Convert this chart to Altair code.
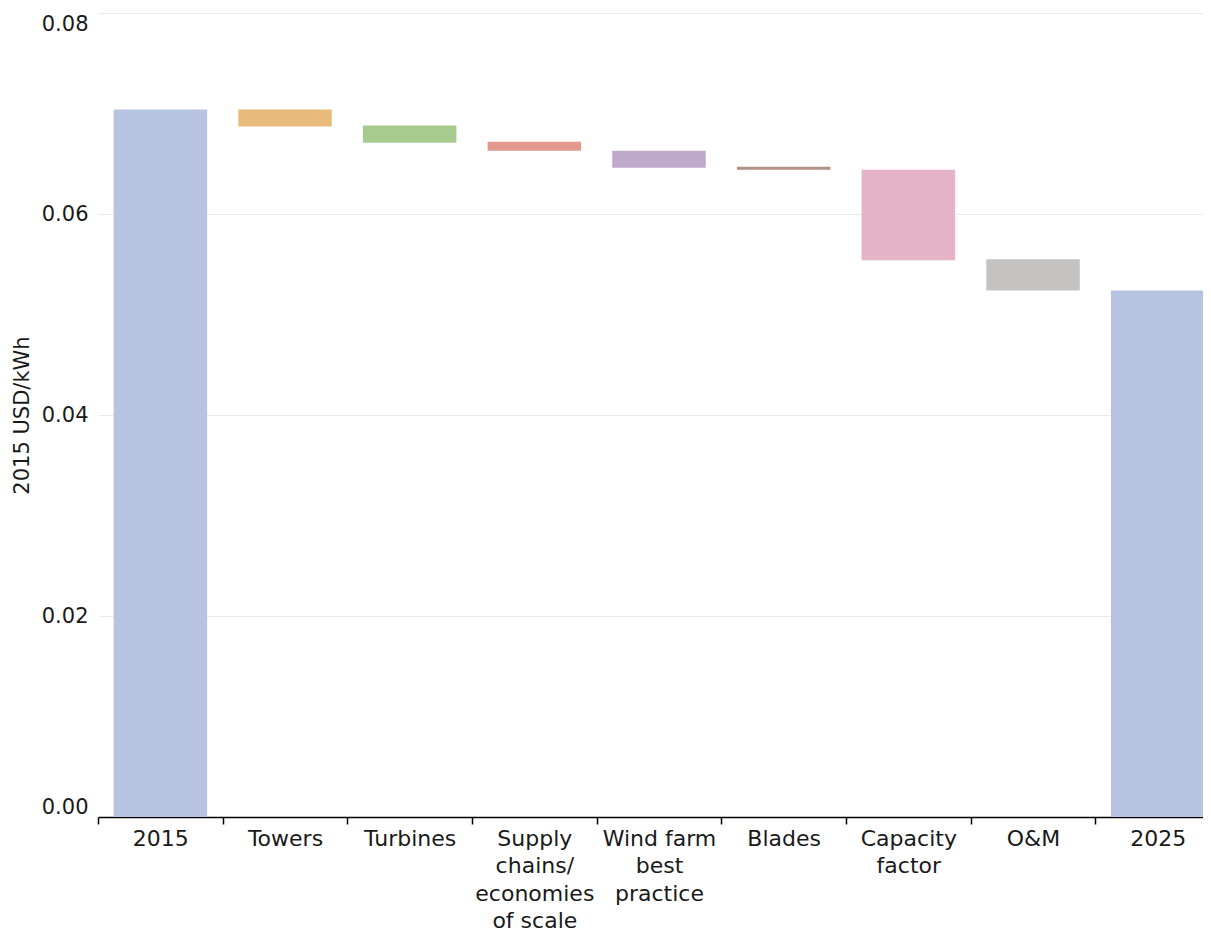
import altair as alt
import pandas as pd

categories = ["2015", "Towers", "Turbines", "Supply|chains/|economies|of scale",
              "Wind farm|best|practice", "Blades", "Capacity|factor", "O&M", "2025"]
tops = [0.0704, 0.0704, 0.0688, 0.0672, 0.0663, 0.0647, 0.0644, 0.0555, 0.0524]
bottoms = [0.0, 0.0687, 0.0671, 0.0663, 0.0646, 0.0644, 0.0554, 0.0524, 0.0]
colors = ["#b6c4e1", "#e8bb7b", "#a7cb8c", "#e4998f", "#bfa9cb",
          "#b09087", "#e5b4c7", "#c4c3c1", "#b6c4e1"]

df = pd.DataFrame({"cat": categories, "top": tops, "bottom": bottoms})

chart = alt.Chart(df).mark_bar(width=alt.RelativeBandSize(0.75)).encode(
    x=alt.X("cat:N", sort=categories, title=None,
            scale=alt.Scale(paddingInner=0, paddingOuter=0, range=[0, 1122]),
            axis=alt.Axis(labelAngle=0, labelExpr="split(datum.label, '|')",
                          labelFont="DejaVu Sans", labelFontSize=22, labelColor="#1a1a1a",
                          labelLineHeight=27.5, labelBaseline="top",
                          domainColor="#000000", domainWidth=1.5,
                          tickColor="#000000", tickWidth=1.5, tickSize=7,
                          tickBand="extent", labelPadding=4, grid=False)),
    y=alt.Y("top:Q", title="2015 USD/kWh",
            scale=alt.Scale(domain=[0, 0.08], nice=False),
            axis=alt.Axis(values=[0, 0.02, 0.04, 0.06, 0.08], format=".2f",
                          domain=False, ticks=False, labelFlush=True,
                          labelFont="DejaVu Sans", labelFontSize=21, labelColor="#1a1a1a",
                          labelPadding=10, gridColor="#ebebeb", gridWidth=1,
                          titleFont="DejaVu Sans", titleFontSize=21,
                          titleFontWeight="normal", titleColor="#1a1a1a",
                          titlePadding=9)),
    y2="bottom:Q",
    color=alt.Color("cat:N", sort=categories,
                    scale=alt.Scale(domain=categories, range=colors), legend=None),
).properties(
    width=1105, height=804,
    autosize=alt.AutoSizeParams(type="none"),
    padding={"left": 90, "top": 5, "right": 0, "bottom": 115},
).configure_view(stroke=None)

chart.save("out.html", embed_options={"renderer": "svg", "actions": False})
